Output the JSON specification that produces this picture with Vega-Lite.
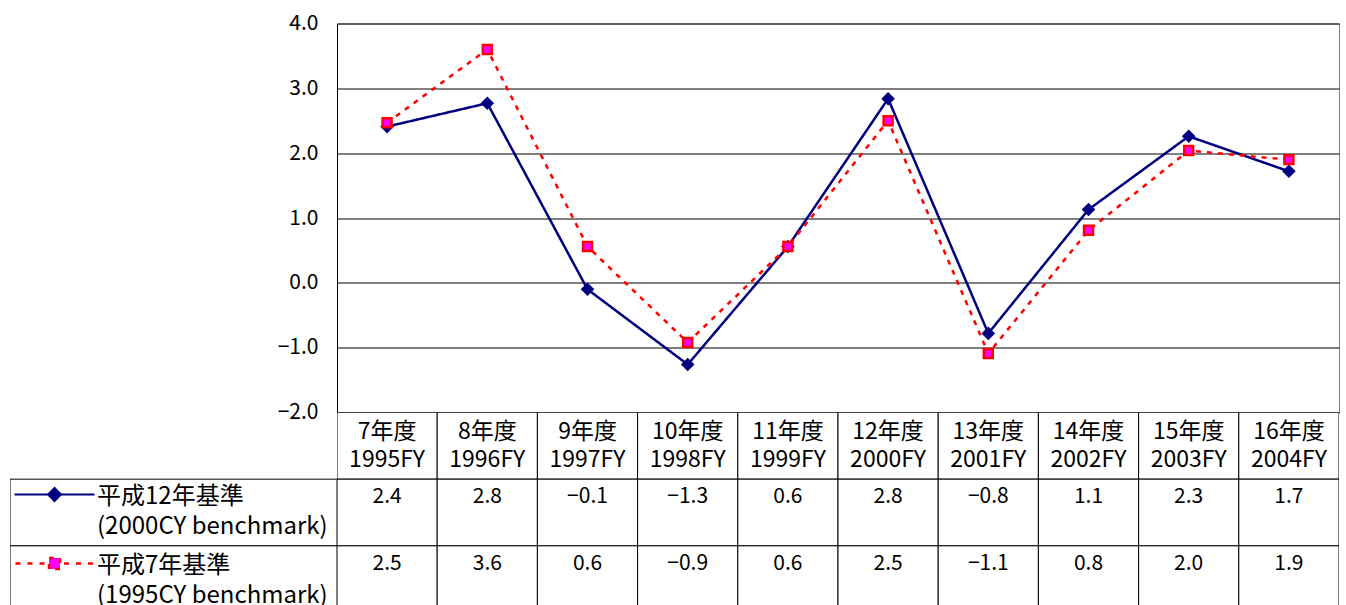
{
  "$schema": "https://vega.github.io/schema/vega-lite/v6.json",
  "padding": {"left": 10, "top": 11.5, "right": 6, "bottom": 0},
  "config": {"view": {"stroke": null}, "font": "Noto Sans CJK JP", "text": {"color": "#000"}},
  "columns": 2,
  "spacing": 0,
  "bounds": "flush",
  "align": "each",
  "datasets": {
    "d": [
      {"fy": "1995FY", "label": "7年度\n1995FY", "series": "平成12年基準", "value": 2.41},
      {"fy": "1996FY", "label": "8年度\n1996FY", "series": "平成12年基準", "value": 2.77},
      {"fy": "1997FY", "label": "9年度\n1997FY", "series": "平成12年基準", "value": -0.10},
      {"fy": "1998FY", "label": "10年度\n1998FY", "series": "平成12年基準", "value": -1.26},
      {"fy": "1999FY", "label": "11年度\n1999FY", "series": "平成12年基準", "value": 0.56},
      {"fy": "2000FY", "label": "12年度\n2000FY", "series": "平成12年基準", "value": 2.84},
      {"fy": "2001FY", "label": "13年度\n2001FY", "series": "平成12年基準", "value": -0.78},
      {"fy": "2002FY", "label": "14年度\n2002FY", "series": "平成12年基準", "value": 1.13},
      {"fy": "2003FY", "label": "15年度\n2003FY", "series": "平成12年基準", "value": 2.26},
      {"fy": "2004FY", "label": "16年度\n2004FY", "series": "平成12年基準", "value": 1.72},
      {"fy": "1995FY", "label": "7年度\n1995FY", "series": "平成7年基準", "value": 2.47},
      {"fy": "1996FY", "label": "8年度\n1996FY", "series": "平成7年基準", "value": 3.60},
      {"fy": "1997FY", "label": "9年度\n1997FY", "series": "平成7年基準", "value": 0.56},
      {"fy": "1998FY", "label": "10年度\n1998FY", "series": "平成7年基準", "value": -0.92},
      {"fy": "1999FY", "label": "11年度\n1999FY", "series": "平成7年基準", "value": 0.56},
      {"fy": "2000FY", "label": "12年度\n2000FY", "series": "平成7年基準", "value": 2.50},
      {"fy": "2001FY", "label": "13年度\n2001FY", "series": "平成7年基準", "value": -1.09},
      {"fy": "2002FY", "label": "14年度\n2002FY", "series": "平成7年基準", "value": 0.81},
      {"fy": "2003FY", "label": "15年度\n2003FY", "series": "平成7年基準", "value": 2.04},
      {"fy": "2004FY", "label": "16年度\n2004FY", "series": "平成7年基準", "value": 1.90}
    ]
  },
  "concat": [
    {"width": 327, "height": 389, "data": {"values": []}, "mark": "text"},
    {
      "width": 1002,
      "height": 389,
      "data": {"name": "d"},
      "view": {"stroke": "#808080", "strokeWidth": 1},
      "encoding": {
        "x": {"field": "fy", "type": "nominal", "sort": null, "scale": {"type": "point", "padding": 0.5}, "axis": null},
        "y": {"field": "value", "type": "quantitative", "scale": {"domain": [-2, 4], "nice": false, "zero": false},
          "axis": {"values": [-2, -1, 0, 1, 2, 3, 4], "format": ".1f", "title": null, "ticks": false, "labelFontSize": 21, "labelPadding": 19, "labelColor": "#000", "domainColor": "#000", "gridColor": "#000", "gridOpacity": 1}}
      },
      "layer": [
        {
          "mark": {"type": "line", "strokeWidth": 2.5},
          "encoding": {
            "stroke": {"field": "series", "type": "nominal", "scale": {"domain": ["平成12年基準", "平成7年基準"], "range": ["#000080", "#ff0000"]},
              "legend": {
                "orient": "none", "legendX": 32.5, "legendY": 459, "title": null, "padding": 0, "symbolOffset": 0, "labelOffset": 30.5,
                "labelFontSize": 24, "labelColor": "#000", "labelLimit": 300, "rowPadding": 13, "symbolSize": 400,
                "labelExpr": "datum.value == '平成12年基準' ? ['平成12年基準', '(2000CY benchmark)'] : ['平成7年基準', '(1995CY benchmark)']",
                "encode": {
                  "symbols": {"update": {
                    "shape": {"signal": "datum.value == '平成12年基準' ? 'M-4,0H4M-0.65,0L0,-0.65L0.65,0L0,0.65Z' : 'M-3.9,0H-3.35M-2.7,0H-2.15M-1.5,0H-0.95M0.95,0H1.5M2.15,0H2.7M3.35,0H3.9M-0.55,-0.55H0.55V0.55H-0.55Z'"},
                    "fill": {"signal": "datum.value == '平成12年基準' ? '#000080' : '#ff00ff'"},
                    "stroke": {"signal": "datum.value == '平成12年基準' ? '#000080' : '#ff0000'"},
                    "strokeWidth": {"signal": "datum.value == '平成12年基準' ? 2 : 2.5"},
                    "strokeDash": {"value": [1, 0]},
                    "size": {"value": 400},
                    "opacity": {"value": 1},
                    "fillOpacity": {"value": 1},
                    "strokeOpacity": {"value": 1}
                  }},
                  "labels": {"update": {"dy": {"value": 2}, "lineHeight": {"value": 30}}}
                }
              }
            },
            "strokeDash": {"field": "series", "type": "nominal", "scale": {"domain": ["平成12年基準", "平成7年基準"], "range": [[1, 0], [5, 6]]}, "legend": null}
          }
        },
        {
          "transform": [{"filter": "datum.series == '平成12年基準'"}],
          "mark": {"type": "point", "shape": "diamond", "filled": true, "color": "#000080", "size": 185, "opacity": 1}
        },
        {
          "transform": [{"filter": "datum.series == '平成7年基準'"}],
          "mark": {"type": "point", "shape": "square", "filled": true, "fill": "#ff00ff", "stroke": "#ff0000", "strokeWidth": 2.5, "size": 80, "opacity": 1}
        }
      ]
    },
    {
      "width": 327,
      "height": 194,
      "data": {"name": "d"},
      "transform": [{"filter": "datum.fy == '1995FY'"}],
      "mark": {"type": "rect", "fill": "#fff", "stroke": "#000", "strokeWidth": 1, "clip": true},
      "encoding": {
        "y": {"field": "series", "type": "nominal", "scale": {"domain": ["header", "平成12年基準", "平成7年基準"], "range": [0, 200], "paddingInner": 0, "paddingOuter": 0}, "axis": null}
      }
    },
    {
      "width": 1002,
      "height": 194,
      "data": {"name": "d"},
      "encoding": {
        "x": {"field": "fy", "type": "nominal", "sort": null, "scale": {"type": "band", "paddingInner": 0, "paddingOuter": 0}, "axis": null}
      },
      "layer": [
        {
          "transform": [{"filter": "datum.series == '平成12年基準'"}],
          "mark": {"type": "rect", "fill": "#fff", "stroke": "#000", "strokeWidth": 1, "clip": true},
          "encoding": {
            "y": {"datum": "header", "type": "nominal", "scale": {"domain": ["header", "平成12年基準", "平成7年基準"], "range": [0, 200], "paddingInner": 0, "paddingOuter": 0}, "axis": null}
          }
        },
        {
          "mark": {"type": "rect", "fill": "#fff", "stroke": "#000", "strokeWidth": 1, "clip": true},
          "encoding": {
            "y": {"field": "series", "type": "nominal", "axis": null}
          }
        },
        {
          "transform": [{"filter": "datum.series == '平成12年基準'"}],
          "mark": {"type": "text", "fontSize": 23, "lineHeight": 28, "lineBreak": "\n", "baseline": "middle"},
          "encoding": {
            "y": {"datum": "header", "type": "nominal", "bandPosition": 0.29, "axis": null},
            "text": {"field": "label", "type": "nominal"}
          }
        },
        {
          "mark": {"type": "text", "fontSize": 21, "baseline": "middle"},
          "encoding": {
            "y": {"field": "series", "type": "nominal", "bandPosition": 0.27, "axis": null},
            "text": {"field": "value", "type": "quantitative", "format": ".1f"}
          }
        }
      ]
    }
  ]
}
